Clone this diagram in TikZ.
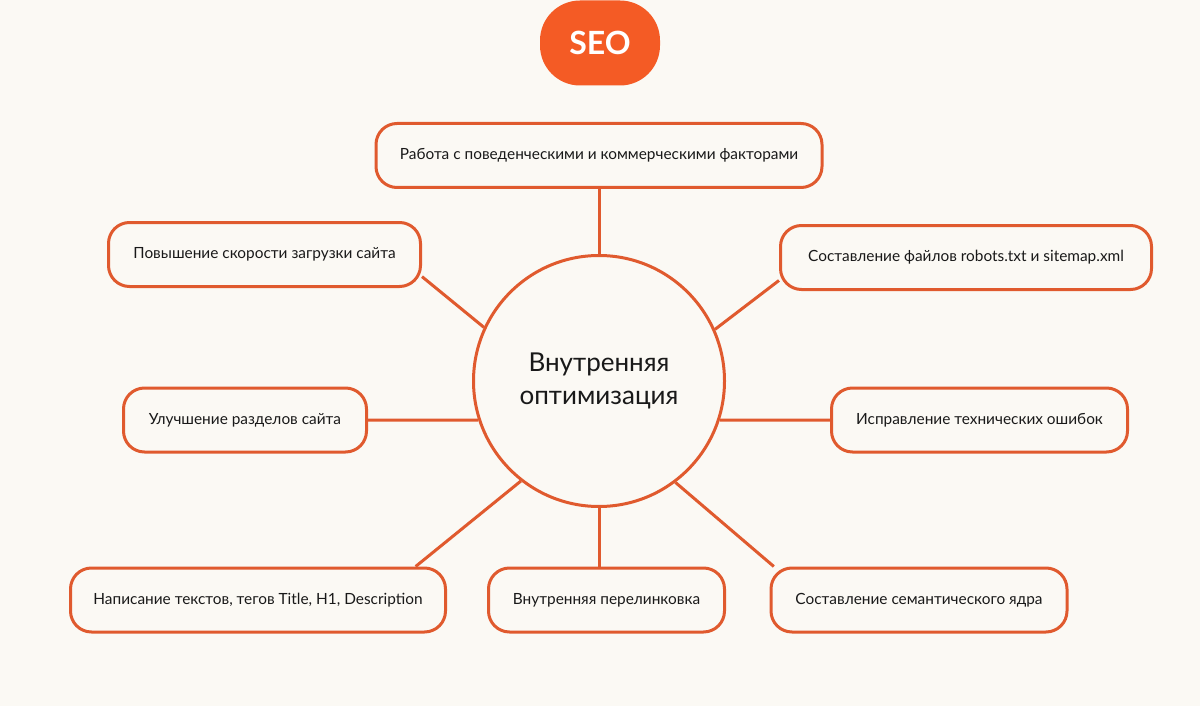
\documentclass[tikz,border=0pt]{standalone}
\usepackage{fontspec}
\setmainfont{Lato}
\usepackage{tikz}
\usetikzlibrary{shapes}% circle and rounded boxes
\definecolor{paper}{HTML}{FBF9F4}
\definecolor{rust}{HTML}{E05A2E}
\definecolor{flame}{HTML}{F45B25}
\tikzset{every node/.style={font=\fontsize{15.4}{18}\selectfont, text=black!90}}
\tikzset{topic/.style={draw=rust, line width=3pt, fill=paper, rounded corners=21pt,
    minimum height=64pt, inner sep=0pt, align=center},
  hub/.style={draw=rust, line width=3pt, fill=paper, circle, minimum size=251pt,
    inner sep=0pt, align=center, font=\fontsize{26}{33}\selectfont},
  link/.style={draw=rust, line width=3pt}}

\begin{document}
\begin{tikzpicture}[x=1pt, y=-1pt]
    \fill[paper] (0,0) rectangle (1200,706);
    \useasboundingbox (0,0) rectangle (1200,706);
    % title pill
    \node[fill=flame, rounded corners=40pt, minimum width=120pt, minimum height=85pt,
      text=white, font=\fontsize{32}{32}\selectfont\bfseries] (seo) at (600,43) {SEO};
    % centre
    \node[hub] (core) at (599,381) {Внутренняя\\оптимизация};
    % boxes
    \node[topic, minimum width=446pt] (b1) at (599,155.5) {Работа с поведенческими и коммерческими факторами};
    \node[topic, minimum width=312pt] (b2) at (264.5,254.5) {Повышение скорости загрузки сайта};
    \node[topic, minimum width=371pt] (b3) at (966,257.5) {Составление файлов robots.txt и sitemap.xml};
    \node[topic, minimum width=243pt] (b4) at (245,420) {Улучшение разделов сайта};
    \node[topic, minimum width=296pt] (b5) at (979.5,420) {Исправление технических ошибок};
    \node[topic, minimum width=375pt] (b6) at (258,600) {Написание текстов, тегов Title, H1, Description};
    \node[topic, minimum width=236pt] (b7) at (606.5,600) {Внутренняя перелинковка};
    \node[topic, minimum width=296pt] (b8) at (919,600) {Составление семантического ядра};
    % spokes
    \draw[link] (b1) -- (core);
    \draw[link] (b2.-8) -- (core.155);
    \draw[link] (b3.187) -- (core.24);
    \draw[link] (b4.east) -- (core.198);
    \draw[link] (b5.west) -- (core.342);
    \draw[link] (b6.12) -- (core.232);
    \draw[link] (core.south) -- (core.south |- b7.north);
    \draw[link] (b8.167) -- (core.307);
  \end{tikzpicture}
\end{document}
